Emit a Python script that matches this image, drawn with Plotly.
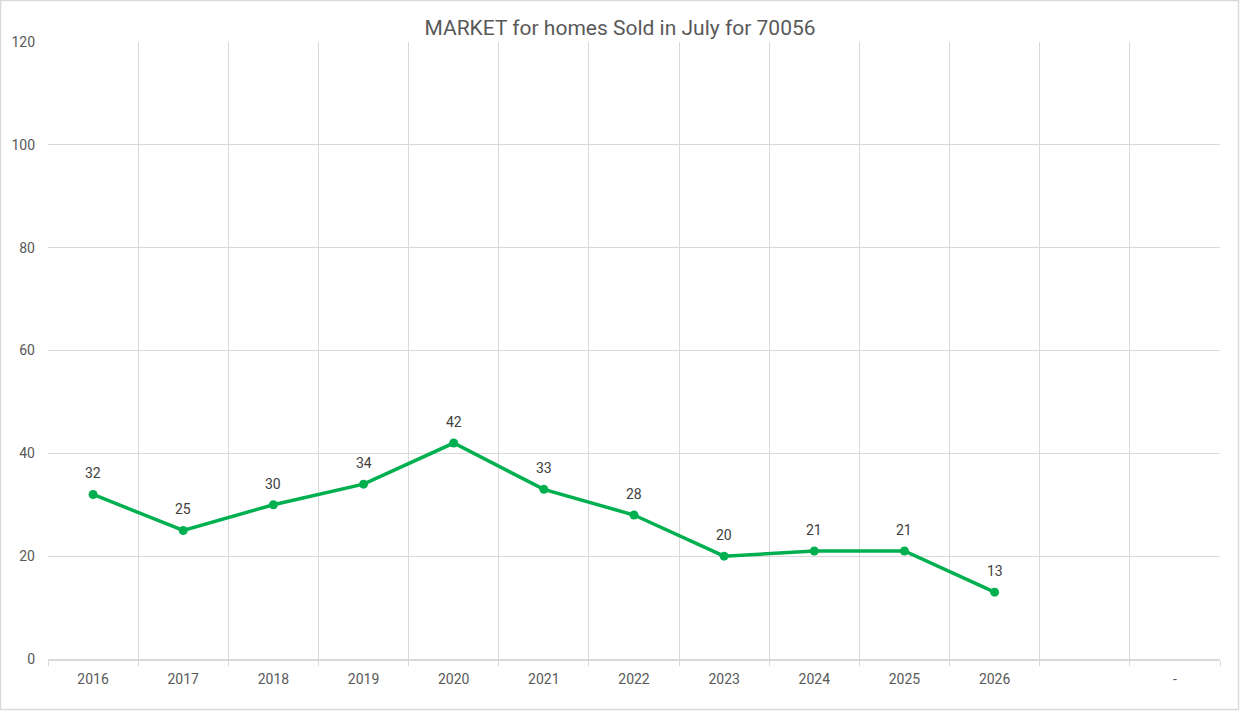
import plotly.graph_objects as go

categories = ["2016", "2017", "2018", "2019", "2020", "2021", "2022",
              "2023", "2024", "2025", "2026", " ", "-"]
years = ["2016", "2017", "2018", "2019", "2020", "2021", "2022",
         "2023", "2024", "2025", "2026"]
homes_sold = [32, 25, 30, 34, 42, 33, 28, 20, 21, 21, 13]
y_ticks = [0, 20, 40, 60, 80, 100, 120]

W, H = 1240, 711
L, R, T, B = 48, 20, 42, 52

fig = go.Figure()
fig.add_trace(go.Scatter(
    x=years, y=homes_sold,
    mode="lines+markers",
    line=dict(color="#00B050", width=3.5),
    marker=dict(color="#00B050", size=9),
    cliponaxis=False,
    hoverinfo="x+y",
))

# data labels above each point (x given as category index)
for yr, v in zip(years, homes_sold):
    fig.add_annotation(x=categories.index(yr), y=v, text=str(v), showarrow=False,
                       yshift=21, font=dict(family="Roboto", size=14, color="#404040"))

pw, ph = W - L - R, H - T - B
fig.add_shape(type="rect", xref="paper", yref="paper",
              x0=-(L - 0.5) / pw, x1=1 + (R - 1.5) / pw,
              y0=-(B - 1.5) / ph, y1=1 + (T - 0.5) / ph,
              line=dict(color="#d9d9d9", width=1.5), layer="below")

fig.update_layout(
    width=W, height=H,
    margin=dict(l=L, r=R, t=T, b=B),
    paper_bgcolor="white", plot_bgcolor="white",
    showlegend=False,
    title=dict(text="MARKET for homes Sold in July for 70056",
               x=0.5, xanchor="center", y=1 - 28 / H, yanchor="middle",
               font=dict(family="Roboto", size=21, color="#595959")),
    font=dict(family="Roboto", size=14, color="#595959"),
)
fig.update_xaxes(
    type="category", categoryorder="array", categoryarray=categories,
    tickmode="array", tickvals=categories, ticktext=categories,
    range=[-0.5, len(categories) - 0.5],
    tickson="boundaries", ticks="outside", ticklen=5, tickcolor="#d9d9d9",
    showgrid=True, gridcolor="#d9d9d9", gridwidth=1,
    showline=True, linecolor="#d9d9d9", linewidth=1.5,
    ticklabelstandoff=6,
    tickfont=dict(size=14, color="#595959"),
    fixedrange=True,
)
fig.update_yaxes(
    range=[0, 120], tickvals=y_ticks,
    showgrid=True, gridcolor="#d9d9d9", gridwidth=1,
    zeroline=False, ticks="", ticklabelstandoff=12,
    tickfont=dict(size=14, color="#595959"),
    fixedrange=True,
)

fig.write_html("out.html", config={"displayModeBar": False},
               post_script="document.body.style.margin='0';")
